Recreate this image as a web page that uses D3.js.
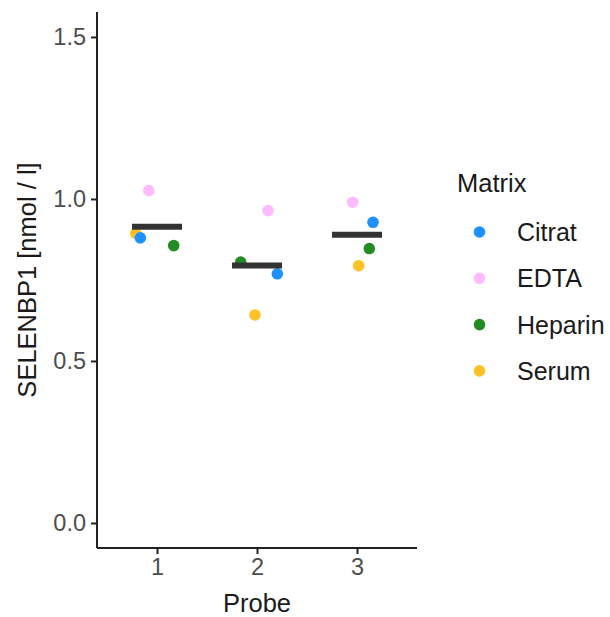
<!DOCTYPE html>
<html>
<head>
<meta charset="utf-8">
<script src="https://cdn.jsdelivr.net/npm/d3@7"></script>
<style>
  html, body { margin: 0; padding: 0; background: #fff; }
  svg { display: block; font-family: "Liberation Sans", Arial, sans-serif; }
</style>
</head>
<body>
<svg id="chart" width="610" height="617"></svg>
<script>
// ---- data ----
const probes = [1, 2, 3];
const matrices = ["Citrat", "EDTA", "Heparin", "Serum"];
const citrat  = [0.880, 0.769, 0.928];
const edta    = [1.026, 0.964, 0.990];
const heparin = [0.856, 0.805, 0.847];
const serum   = [0.894, 0.642, 0.794];
// horizontal jitter offsets as seen in the picture
const citratJitter  = [-0.167, 0.203, 0.160];
const edtaJitter    = [-0.083, 0.110, -0.043];
const heparinJitter = [0.167, -0.163, 0.123];
const serumJitter   = [-0.213, -0.020, 0.017];
const yTicks = [0.0, 0.5, 1.0, 1.5];
const colors = ["#1E90FF", "#FFBBFF", "#228B22", "#FFC125"];

const seriesValues = [citrat, edta, heparin, serum];
const seriesJitter = [citratJitter, edtaJitter, heparinJitter, serumJitter];

const points = [];
matrices.forEach((m, mi) => {
  probes.forEach((p, pi) => {
    points.push({ matrix: m, probe: p, value: seriesValues[mi][pi], jitter: seriesJitter[mi][pi] });
  });
});
const means = probes.map((p, pi) => ({ probe: p, value: d3.mean(seriesValues, s => s[pi]) }));

// ---- layout ----
const svg = d3.select("#chart");
const pLeft = 97, pRight = 417, pTop = 12, pBottom = 548;

const x = d3.scaleLinear().domain([0.4, 3.6]).range([pLeft, pRight]);
const y = d3.scaleLinear().domain([-0.0772, 1.577]).range([pBottom, pTop]);
const color = d3.scaleOrdinal().domain(matrices).range(colors);

// points (drawn so Serum sits underneath)
const drawOrder = ["Serum", "Heparin", "EDTA", "Citrat"];
const sorted = points.slice().sort((a, b) => drawOrder.indexOf(a.matrix) - drawOrder.indexOf(b.matrix));
svg.append("g").selectAll("circle").data(sorted).join("circle")
  .attr("cx", d => x(d.probe + d.jitter))
  .attr("cy", d => y(d.value))
  .attr("r", 5.8)
  .attr("fill", d => color(d.matrix));

// mean bars
svg.append("g").selectAll("line").data(means).join("line")
  .attr("x1", d => x(d.probe - 0.25))
  .attr("x2", d => x(d.probe + 0.25))
  .attr("y1", d => y(d.value))
  .attr("y2", d => y(d.value))
  .attr("stroke", "#333333")
  .attr("stroke-width", 6);

// axes
const axisColor = "#222222";
const yAxis = svg.append("g").attr("transform", `translate(${pLeft},0)`)
  .call(d3.axisLeft(y).tickValues(yTicks).tickFormat(d3.format(".1f")).tickSize(6).tickPadding(5));
const xAxis = svg.append("g").attr("transform", `translate(0,${pBottom})`)
  .call(d3.axisBottom(x).tickValues(probes).tickFormat(d3.format("d")).tickSize(6).tickPadding(4));

[yAxis, xAxis].forEach(g => {
  g.select(".domain").attr("stroke", axisColor).attr("stroke-width", 2);
  g.selectAll(".tick line").attr("stroke", axisColor).attr("stroke-width", 2);
  g.selectAll(".tick text").attr("fill", "#4D4D4D").attr("font-size", 23.5)
    .attr("font-family", "Liberation Sans, Arial, sans-serif");
});
yAxis.select(".domain").attr("d", `M0,${pBottom}V${pTop}`);
xAxis.select(".domain").attr("d", `M${pLeft},0H${pRight}`);

// axis titles
svg.append("text")
  .attr("x", (pLeft + pRight) / 2).attr("y", 612)
  .attr("text-anchor", "middle")
  .attr("font-size", 25.5).attr("fill", "#1a1a1a")
  .text("Probe");
svg.append("text")
  .attr("transform", `translate(36,${(pTop + pBottom) / 2}) rotate(-90)`)
  .attr("text-anchor", "middle")
  .attr("font-size", 25.5).attr("fill", "#1a1a1a")
  .text("SELENBP1 [nmol / l]");

// legend
const legend = svg.append("g");
legend.append("text")
  .attr("x", 457).attr("y", 192)
  .attr("font-size", 25.5).attr("fill", "#1a1a1a")
  .text("Matrix");
const items = legend.selectAll("g.item").data(matrices).join("g")
  .attr("class", "item")
  .attr("transform", (d, i) => `translate(0,${232 + i * 46.3})`);
items.append("circle").attr("cx", 479.5).attr("cy", 0).attr("r", 5.8).attr("fill", d => color(d));
items.append("text")
  .attr("x", 517).attr("y", 0).attr("dy", "0.36em")
  .attr("font-size", 25).attr("fill", "#1a1a1a")
  .text(d => d);
</script>
</body>
</html>
